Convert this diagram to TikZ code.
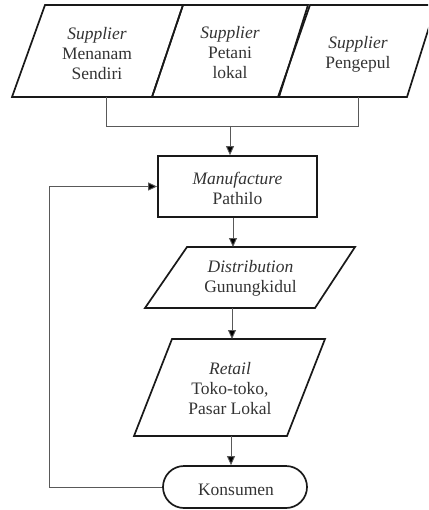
\documentclass[tikz,border=0pt]{standalone}
\usepackage{fontspec}
\setmainfont{Liberation Serif}
\usetikzlibrary{arrows.meta,calc}
\begin{document}
\begin{tikzpicture}[x=1bp,y=-1bp,
  shapeline/.style={line width=1.7bp, draw=black!90, line join=miter},
  conn/.style={line width=0.9bp, draw=black!65},
  arr/.style={conn, -{Triangle[length=9bp,width=8bp,fill=black]}},
  lbl/.style={align=center, text=black!80, font=\fontsize{17.5bp}{20bp}\selectfont, inner sep=0pt}]
\useasboundingbox (0,0) rectangle (428,510);
\clip (0,0) rectangle (428,510);
% supplier parallelograms
\draw[shapeline] (12,97) -- (45,5) -- (183,5) -- (152,97) -- cycle;
\draw[shapeline] (152,97) -- (183,5) -- (308,5) -- (279,97) -- cycle;
\draw[shapeline] (278,97) -- (310,5) -- (436,5) -- (407,97) -- cycle;
\node[lbl] (s1) at (97,54) {\textit{Supplier}\\Menanam\\Sendiri};
\node[lbl] (s2) at (230,53) {\textit{Supplier}\\Petani\\lokal};
\node[lbl] (s3) at (358,54) {\textit{Supplier}\\Pengepul};
\coordinate (s1b) at (106,97);
\coordinate (s3b) at (358,97);
\coordinate (j1) at (106,126);
\coordinate (j3) at (358,126);
\coordinate (jm) at (230,126);
% manufacture
\node[shapeline, draw, minimum width=159bp, minimum height=61bp, inner sep=0pt] (mfg) at (237.5,186.5) {};
\node[lbl] (mfgt) at (237.5,188) {\textit{Manufacture}\\Pathilo};
% distribution
\draw[shapeline] (145,308) -- (187,247) -- (355,247) -- (315,308) -- cycle;
\node[lbl] (dist) at (250.5,278) {\textit{Distribution}\\Gunungkidul};
\coordinate (dtop) at (233,247);
\coordinate (dbot) at (232,308);
% retail
\draw[shapeline] (134,436) -- (172,339) -- (325,339) -- (287,436) -- cycle;
\node[lbl] (ret) at (230,389) {\textit{Retail}\\Toko-toko,\\Pasar Lokal};
\coordinate (rtop) at (232,339);
\coordinate (rbot) at (231,436);
% konsumen
\node[shapeline, draw, rounded corners=21bp, minimum width=144bp, minimum height=42bp, inner sep=0pt] (kons) at (235,487) {};
\node[lbl] (konst) at (236,490) {Konsumen};
% connectors
\draw[conn] (s1b) -- (j1) -- (j3) -- (s3b);
\draw[arr] (jm) -- (jm |- mfg.north);
\draw[arr] (dtop |- mfg.south) -- (dtop);
\draw[arr] (dbot) -- (rtop);
\draw[arr] (rbot) -- (rbot |- kons.north);
\draw[arr] (kons.west) -- ++(-113,0) |- (mfg.west);
\end{tikzpicture}
\end{document}
